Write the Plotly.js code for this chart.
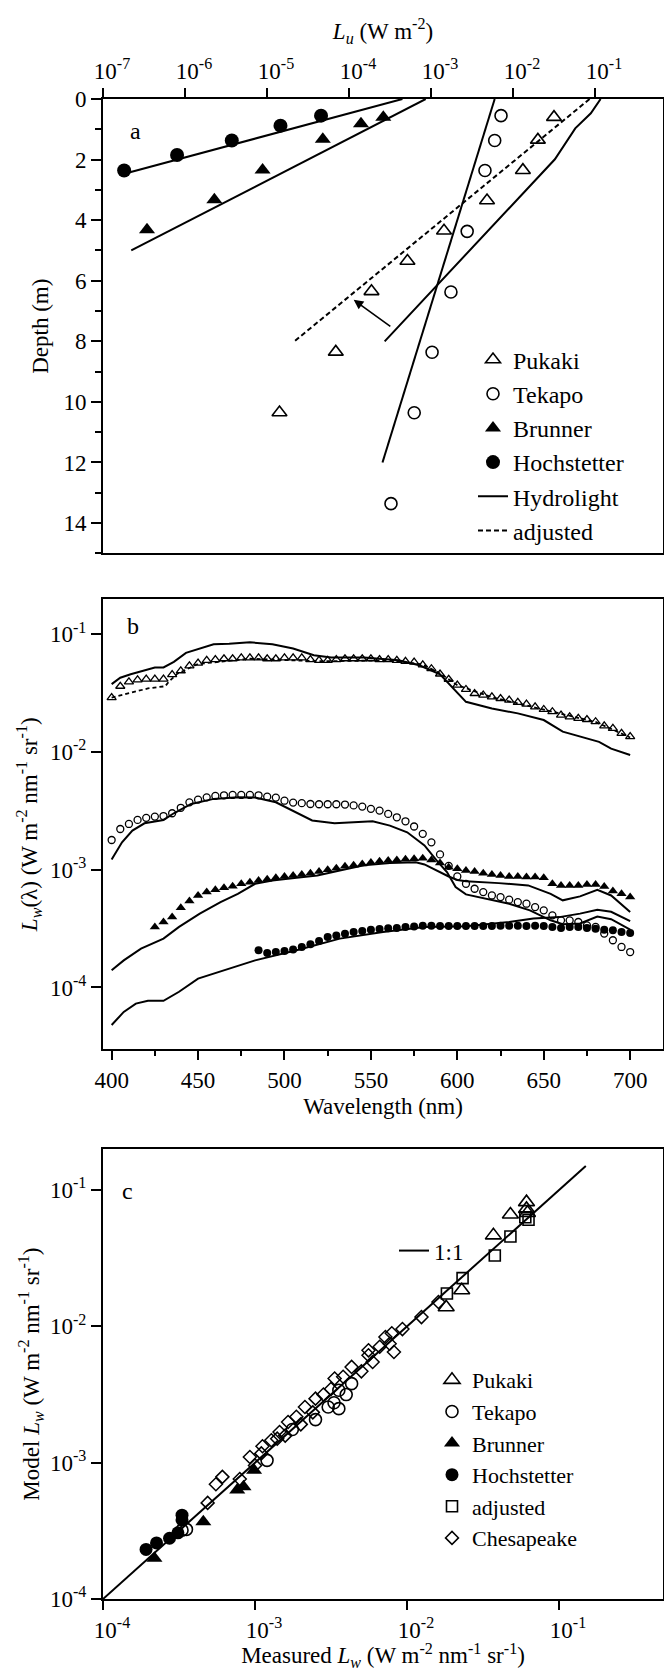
<!DOCTYPE html>
<html><head><meta charset="utf-8">
<script src="https://cdn.plot.ly/plotly-3.0.1.min.js"></script>
<style>html,body{margin:0;padding:0;background:#fff}#chart{width:664px;height:1671px}</style>
</head><body><div id="chart"></div><script>
// ---------- Panel a : Lu profiles ----------
var pukakiDepth = [0.6, 1.35, 2.35, 3.35, 4.35, 5.35, 6.35, 8.35, 10.35];
var pukakiLu = [0.0316, 0.0201, 0.0132, 0.00482, 0.00144, 0.000516, 0.000188, 0.000069, 0.0000142];
var tekapoDepth = [0.55, 1.37, 2.36, 4.37, 6.37, 8.36, 10.36, 13.36];
var tekapoLu = [0.00714, 0.00598, 0.00455, 0.00276, 0.00175, 0.00103, 0.000624, 0.000325];
var brunnerDepth = [0.6, 0.82, 1.33, 2.34, 3.33, 4.32];
var brunnerLu = [0.000262, 0.00014, 0.0000479, 0.00000883, 0.00000228, 0.000000344];
var hochDepth = [0.55, 0.88, 1.37, 1.85, 2.36];
var hochLu = [0.0000456, 0.0000146, 0.00000372, 0.0000008, 0.000000181];

var pukakiModelDepth = [0, 0.47, 0.97, 1.99, 8.0];
var pukakiModelLu = [0.117, 0.0889, 0.0574, 0.0324, 0.000272];
var tekapoModelDepth = [0, 12];
var tekapoModelLu = [0.00598, 0.000256];
var brunnerModelDepth = [0, 5.0];
var brunnerModelLu = [0.000861, 0.000000221];
var hochModelDepth = [0, 2.45];
var hochModelLu = [0.000448, 0.000000192];
var adjustedDepth = [0, 8];
var adjustedLu = [0.0859, 0.0000216];

// ---------- Panel b : Lw spectra ----------
var wlAll = [400,405,410,415,420,425,430,435,440,445,450,455,460,465,470,475,480,485,490,495,500,505,510,515,520,525,530,535,540,545,550,555,560,565,570,575,580,585,590,595,600,605,610,615,620,625,630,635,640,645,650,655,660,665,670,675,680,685,690,695,700];
var pukakiLw = [0.0290,0.0362,0.0395,0.0410,0.0416,0.0416,0.0416,0.0455,0.0490,0.0540,0.0570,0.0600,0.0610,0.0620,0.0620,0.0630,0.0630,0.0630,0.0620,0.0620,0.0630,0.0630,0.0630,0.0610,0.0600,0.0600,0.0610,0.0620,0.0620,0.0620,0.0620,0.0610,0.0610,0.0600,0.0590,0.0580,0.0550,0.0510,0.0460,0.0415,0.0370,0.0340,0.0314,0.0304,0.0294,0.0285,0.0276,0.0264,0.0255,0.0242,0.0230,0.0220,0.0206,0.0199,0.0193,0.0189,0.0181,0.0167,0.0159,0.0144,0.0135];
var tekapoLw = [0.00179,0.00222,0.00245,0.00265,0.00276,0.00283,0.00286,0.00302,0.00336,0.00374,0.00394,0.00412,0.00424,0.00429,0.00432,0.00432,0.00432,0.00429,0.00418,0.00410,0.00386,0.00372,0.00368,0.00362,0.00360,0.00360,0.00360,0.00358,0.00352,0.00344,0.00329,0.00318,0.00298,0.00279,0.00258,0.00233,0.00202,0.00171,0.00135,0.00108,0.000877,0.000760,0.000690,0.000646,0.000605,0.000586,0.000557,0.000531,0.000515,0.000482,0.000452,0.000410,0.000372,0.000372,0.000360,0.000337,0.000327,0.000287,0.000252,0.000221,0.000200];
var wlBrunner = [425,430,435,440,445,450,455,460,465,470,475,480,485,490,495,500,505,510,515,520,525,530,535,540,545,550,555,560,565,570,575,580,585,590,595,600,605,610,615,620,625,630,635,640,645,650,655,660,665,670,675,680,685,690,695,700];
var brunnerLw = [0.000327,0.000360,0.000396,0.000476,0.000542,0.000605,0.000646,0.000676,0.000703,0.000726,0.000760,0.000785,0.000811,0.000832,0.000855,0.000877,0.000895,0.000912,0.000936,0.000968,0.00100,0.00103,0.00107,0.00109,0.00112,0.00115,0.00118,0.00120,0.00121,0.00123,0.00124,0.00125,0.00121,0.00114,0.00105,0.00102,0.000987,0.000968,0.000936,0.000912,0.000895,0.000877,0.000877,0.000866,0.000866,0.000855,0.000760,0.000736,0.000736,0.000736,0.000748,0.000750,0.000722,0.000659,0.000625,0.000586];
var wlHoch = [485,490,495,500,505,510,515,520,525,530,535,540,545,550,555,560,565,570,575,580,585,590,595,600,605,610,615,620,625,630,635,640,645,650,655,660,665,670,675,680,685,690,695,700];
var hochLw = [0.000207,0.000196,0.000200,0.000204,0.000210,0.000221,0.000233,0.000248,0.000268,0.000277,0.000286,0.000296,0.000302,0.000310,0.000314,0.000318,0.000320,0.000327,0.000330,0.000335,0.000335,0.000333,0.000333,0.000333,0.000333,0.000333,0.000333,0.000333,0.000335,0.000335,0.000335,0.000333,0.000335,0.000333,0.000327,0.000320,0.000327,0.000327,0.000320,0.000316,0.000310,0.000306,0.000296,0.000290];

var wlPukakiModel = [400,405,411,419,425,430,436,443,451,459,468,480,493,505,517,527,546,566,578,590,605,620,635,650,661,672,682,689,700];
var pukakiModelLw = [0.0377,0.0428,0.0458,0.0495,0.0523,0.0523,0.0583,0.0695,0.0757,0.0823,0.0833,0.0855,0.0823,0.0757,0.0664,0.0635,0.0635,0.0602,0.0546,0.0458,0.0267,0.0234,0.0213,0.0187,0.0149,0.0135,0.0122,0.0107,0.00944];
var wlAdjusted = [400,409,421,431,433,438,450,480,520,560,580,590,600,620,650,680,700];
var adjustedLw = [0.0290,0.0314,0.0347,0.0362,0.0395,0.0463,0.0560,0.0620,0.0590,0.0600,0.0555,0.0465,0.0370,0.0292,0.0228,0.0180,0.0133];
var wlTekapoModel = [400,406,412,419,430,436,446,459,473,483,495,507,516,529,551,561,571,581,588,594,599,605,617,630,642,654,661,671,681,689,700];
var tekapoModelLw = [0.00122,0.00171,0.00215,0.00248,0.00265,0.00302,0.00362,0.00400,0.00412,0.00410,0.00374,0.00308,0.00262,0.00248,0.00258,0.00237,0.00208,0.00161,0.00120,0.000955,0.000713,0.000618,0.000568,0.000515,0.000452,0.000372,0.000344,0.000350,0.000400,0.000380,0.000310];
var wlBrunnerModel = [400,407,417,430,439,451,463,473,483,493,507,519,532,546,561,576,581,588,595,600,605,624,641,654,661,671,681,689,700];
var brunnerModelLw = [0.000140,0.000170,0.000214,0.000260,0.000327,0.000424,0.000531,0.000625,0.000760,0.000811,0.000855,0.000895,0.000987,0.00109,0.00114,0.00116,0.00111,0.000987,0.000877,0.000820,0.000800,0.000770,0.000736,0.000625,0.000550,0.000594,0.000676,0.000605,0.000437];
var wlHochModel = [400,407,414,421,430,439,450,461,471,483,507,532,557,581,605,630,644,659,671,681,689,700];
var hochModelLw = [0.000048,0.000062,0.000073,0.000077,0.000077,0.000092,0.000119,0.000134,0.000148,0.000170,0.000207,0.000260,0.000296,0.000327,0.000332,0.000360,0.000385,0.000396,0.000424,0.000458,0.000440,0.000366];

// ---------- Panel c : model vs measured ----------
var cPukakiMeas = [0.0611,0.0611,0.0620,0.0479,0.0370,0.0229,0.0181];
var cPukakiModel = [0.0815,0.0727,0.0680,0.0662,0.0465,0.0184,0.0138];
var cTekapoMeas = [0.00432,0.00356,0.00356,0.00303,0.00250,0.00176,0.00120,0.000354,0.000331,0.00398,0.00331];
var cTekapoModel = [0.00380,0.00340,0.00249,0.00256,0.00207,0.00175,0.00104,0.000324,0.000320,0.00316,0.00275];
var cBrunnerMeas = [0.000840,0.000764,0.000986,0.000457,0.000218];
var cBrunnerModel = [0.000665,0.000630,0.000881,0.000368,0.000199];
var cHochMeas = [0.000192,0.000225,0.000274,0.000311,0.000331,0.000331];
var cHochModel = [0.000231,0.000258,0.000279,0.000306,0.000412,0.000380];
var cAdjMeas = [0.0600,0.0630,0.0479,0.0378,0.0232,0.0183];
var cAdjModel = [0.0632,0.0605,0.0456,0.0331,0.0226,0.0174];
var cChesMeas = [0.000488,0.000553,0.000610,0.000794,0.000925,0.00100,0.00112,0.00110,0.00128,0.00140,0.00145,0.00158,0.00165,0.00187,0.00200,0.00213,0.00240,0.00250,0.00282,0.00316,0.00334,0.00380,0.00432,0.00501,0.00558,0.00594,0.00558,0.00661,0.00721,0.00769,0.00794,0.00820,0.00933,0.01245,0.0161];
var cChesModel = [0.000507,0.000695,0.000787,0.000759,0.00110,0.000955,0.00132,0.00117,0.00146,0.00150,0.00168,0.00158,0.00199,0.00217,0.00191,0.00256,0.00234,0.00295,0.00316,0.00347,0.00414,0.00427,0.00504,0.00468,0.00614,0.00548,0.00667,0.00708,0.00836,0.00746,0.00891,0.00649,0.00955,0.0117,0.0151];
var oneToOne = [0.0001, 0.15];

// ---------- tick labels ----------
var tickA = [1e-7,1e-6,1e-5,1e-4,1e-3,1e-2,1e-1];
var tickAText = ['10<sup>-7</sup>','10<sup>-6</sup>','10<sup>-5</sup>','10<sup>-4</sup>','10<sup>-3</sup>','10<sup>-2</sup>','10<sup>-1</sup>'];
var tickLog4 = [1e-4,1e-3,1e-2,1e-1];
var tickLog4Text = ['10<sup>-4</sup>','10<sup>-3</sup>','10<sup>-2</sup>','10<sup>-1</sup>'];

var TOP = 98.5, BOT = 1599, L = 103, W = 560;
function px(x){return (x - L)/W;}
function py(y){return (BOT - y)/(BOT - TOP);}

var K = 'black';
var FONT = '"Liberation Serif", "Times New Roman", Times, serif';
function mk(sym, size, lw){return {symbol: sym, size: size, color: K, line: {color: K, width: lw||0}};}

var traces = [
  // panel a
  {x: pukakiLu, y: pukakiDepth, mode: 'markers', name: 'Pukaki', marker: mk('triangle-up-open', 13, 1.6), xaxis: 'x', yaxis: 'y', legend: 'legend'},
  {x: tekapoLu, y: tekapoDepth, mode: 'markers', name: 'Tekapo', marker: mk('circle-open', 12, 1.6), xaxis: 'x', yaxis: 'y', legend: 'legend'},
  {x: brunnerLu, y: brunnerDepth, mode: 'markers', name: 'Brunner', marker: mk('triangle-up', 14), xaxis: 'x', yaxis: 'y', legend: 'legend'},
  {x: hochLu, y: hochDepth, mode: 'markers', name: 'Hochstetter', marker: mk('circle', 14), xaxis: 'x', yaxis: 'y', legend: 'legend'},
  {x: pukakiModelLu, y: pukakiModelDepth, mode: 'lines', name: 'Hydrolight', line: {color: K, width: 2}, xaxis: 'x', yaxis: 'y', legend: 'legend'},
  {x: adjustedLu, y: adjustedDepth, mode: 'lines', name: 'adjusted', line: {color: K, width: 2, dash: '5px,3px'}, xaxis: 'x', yaxis: 'y', legend: 'legend'},
  {x: tekapoModelLu, y: tekapoModelDepth, mode: 'lines', showlegend: false, line: {color: K, width: 2}, xaxis: 'x', yaxis: 'y'},
  {x: brunnerModelLu, y: brunnerModelDepth, mode: 'lines', showlegend: false, line: {color: K, width: 2}, xaxis: 'x', yaxis: 'y'},
  {x: hochModelLu, y: hochModelDepth, mode: 'lines', showlegend: false, line: {color: K, width: 2}, xaxis: 'x', yaxis: 'y'},
  // panel b
  {x: wlPukakiModel, y: pukakiModelLw, mode: 'lines', showlegend: false, line: {color: K, width: 2}, xaxis: 'x2', yaxis: 'y2'},
  {x: wlAdjusted, y: adjustedLw, mode: 'lines', showlegend: false, line: {color: K, width: 1.8, dash: '4px,3px'}, xaxis: 'x2', yaxis: 'y2'},
  {x: wlTekapoModel, y: tekapoModelLw, mode: 'lines', showlegend: false, line: {color: K, width: 2}, xaxis: 'x2', yaxis: 'y2'},
  {x: wlBrunnerModel, y: brunnerModelLw, mode: 'lines', showlegend: false, line: {color: K, width: 2}, xaxis: 'x2', yaxis: 'y2'},
  {x: wlHochModel, y: hochModelLw, mode: 'lines', showlegend: false, line: {color: K, width: 2}, xaxis: 'x2', yaxis: 'y2'},
  {x: wlAll, y: pukakiLw, mode: 'markers', showlegend: false, marker: mk('triangle-up-open', 8, 1.3), xaxis: 'x2', yaxis: 'y2'},
  {x: wlAll, y: tekapoLw, mode: 'markers', showlegend: false, marker: mk('circle-open', 7, 1.3), xaxis: 'x2', yaxis: 'y2'},
  {x: wlBrunner, y: brunnerLw, mode: 'markers', showlegend: false, marker: mk('triangle-up', 9), xaxis: 'x2', yaxis: 'y2'},
  {x: wlHoch, y: hochLw, mode: 'markers', showlegend: false, marker: mk('circle', 8), xaxis: 'x2', yaxis: 'y2'},
  // panel c
  {x: oneToOne, y: oneToOne, mode: 'lines', name: '1:1', line: {color: K, width: 2}, xaxis: 'x3', yaxis: 'y3', legend: 'legend4'},
  {x: cPukakiMeas, y: cPukakiModel, mode: 'markers', name: 'Pukaki', marker: mk('triangle-up-open', 14, 1.6), xaxis: 'x3', yaxis: 'y3', legend: 'legend3'},
  {x: cTekapoMeas, y: cTekapoModel, mode: 'markers', name: 'Tekapo', marker: mk('circle-open', 12, 1.6), xaxis: 'x3', yaxis: 'y3', legend: 'legend3'},
  {x: cBrunnerMeas, y: cBrunnerModel, mode: 'markers', name: 'Brunner', marker: mk('triangle-up', 14), xaxis: 'x3', yaxis: 'y3', legend: 'legend3'},
  {x: cHochMeas, y: cHochModel, mode: 'markers', name: 'Hochstetter', marker: mk('circle', 13), xaxis: 'x3', yaxis: 'y3', legend: 'legend3'},
  {x: cAdjMeas, y: cAdjModel, mode: 'markers', name: 'adjusted', marker: mk('square-open', 11, 1.6), xaxis: 'x3', yaxis: 'y3', legend: 'legend3'},
  {x: cChesMeas, y: cChesModel, mode: 'markers', name: 'Chesapeake', marker: mk('diamond-open', 10, 1.5), xaxis: 'x3', yaxis: 'y3', legend: 'legend3'}
];

var tf = {family: FONT, size: 23, color: K};
function ax(extra){
  var base = {showline: true, linecolor: K, linewidth: 2, mirror: true, ticks: 'outside', ticklen: 9, tickwidth: 2, tickcolor: K,
    showgrid: false, zeroline: false, tickfont: tf, fixedrange: true};
  for (var k in extra) base[k] = extra[k];
  return base;
}
var lg = function(x, y, size){return {x: x, y: y, xanchor: 'left', yanchor: 'top', bgcolor: 'rgba(0,0,0,0)', borderwidth: 0, font: {family: FONT, size: size, color: K}, traceorder: 'normal'};};
function letter(t, x, y){return {xref: 'paper', yref: 'paper', x: px(x), y: py(y), xanchor: 'center', yanchor: 'middle', text: t, showarrow: false, font: {family: FONT, size: 24, color: K}};}

var layout = {
  width: 664, height: 1671,
  margin: {l: L, r: 1, t: TOP, b: 1671 - BOT},
  paper_bgcolor: '#fff', plot_bgcolor: '#fff',
  font: {family: FONT, size: 23, color: K},
  xaxis: ax({type: 'log', range: [-7, -0.171], side: 'top', anchor: 'y', tickmode: 'array', tickvals: tickA, ticktext: tickAText, ticklabelshift: 9,
    title: {text: '<i>L<sub>u</sub></i> (W m<sup>-2</sup>)', font: tf, standoff: 9}}),
  yaxis: ax({domain: [py(553), 1], range: [15, 0], anchor: 'x', tick0: 0, dtick: 2, ticklen: 10,
    minor: {dtick: 1, ticklen: 6, tickwidth: 2, tickcolor: K, ticks: 'outside'},
    title: {text: 'Depth (m)', font: tf, standoff: 8}}),
  xaxis2: ax({range: [395, 719], anchor: 'y2', tick0: 400, dtick: 50,
    minor: {dtick: 25, ticklen: 5, tickwidth: 2, tickcolor: K, ticks: 'outside'},
    title: {text: 'Wavelength (nm)', font: tf, standoff: 6}}),
  yaxis2: ax({type: 'log', domain: [py(1049), py(599)], range: [-4.524, -0.703], anchor: 'x2', tickmode: 'array', tickvals: tickLog4, ticktext: tickLog4Text, ticklen: 10,
    title: {text: '<i>L<sub>w</sub></i>(λ) (W m<sup>-2</sup> nm<sup>-1</sup> sr<sup>-1</sup>)', font: tf, standoff: 6}}),
  xaxis3: ax({type: 'log', range: [-4, -0.316], anchor: 'y3', tickmode: 'array', tickvals: tickLog4, ticktext: tickLog4Text, ticklabelshift: 9,
    title: {text: 'Measured <i>L<sub>w</sub></i> (W m<sup>-2</sup> nm<sup>-1</sup> sr<sup>-1</sup>)', font: tf, standoff: 4}}),
  yaxis3: ax({type: 'log', domain: [0, py(1149)], range: [-4, -0.70], anchor: 'x3', tickmode: 'array', tickvals: tickLog4, ticktext: tickLog4Text, ticklen: 10,
    title: {text: 'Model <i>L<sub>w</sub></i> (W m<sup>-2</sup> nm<sup>-1</sup> sr<sup>-1</sup>)', font: tf, standoff: 4}}),
  legend: lg(px(473), py(337), 24),
  legend3: lg(px(432), py(1359), 22),
  legend4: lg(px(394), py(1229), 23),
  annotations: [
    letter('a', 135, 131),
    letter('b', 133, 626),
    letter('c', 127, 1191),
    {xref: 'x', yref: 'y', axref: 'x', ayref: 'y', x: -3.943, y: 6.63, ax: -3.478, ay: 7.54, text: '', showarrow: true,
      arrowhead: 2, arrowsize: 1.2, arrowwidth: 1.6, arrowcolor: K, standoff: 0}
  ]
};

Plotly.newPlot('chart', traces, layout, {displayModeBar: false, staticPlot: true});
</script></body></html>
